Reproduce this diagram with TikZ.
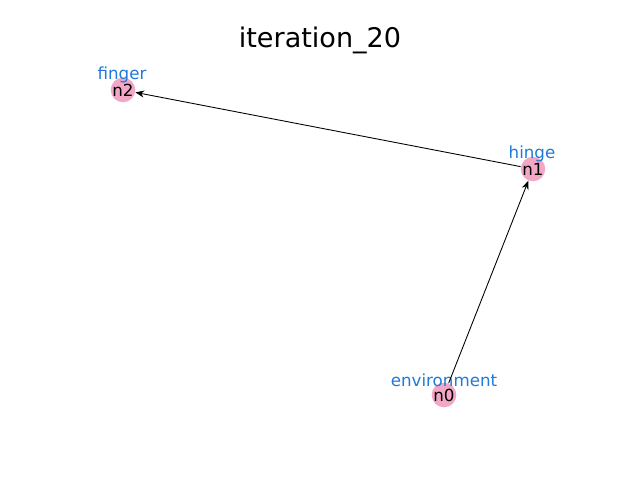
\documentclass[tikz,border=0pt]{standalone}
\usepackage{fontspec}
\setmainfont{DejaVu Sans}
\usetikzlibrary{arrows.meta}
\definecolor{nodepink}{HTML}{F2A7C6}
\definecolor{labelblue}{HTML}{1F7AD8}
\tikzset{
  part/.style={fill=nodepink, circle, inner sep=0pt, minimum size=0.48cm, font=\fontsize{9.5}{11}\selectfont},
  partname/.style={text=labelblue, font=\fontsize{9.5}{11}\selectfont},
  link/.style={-{Stealth[length=5pt,width=4pt]}, line width=0.5pt}
}
\begin{document}
\begin{tikzpicture}[x=0.02cm, y=-0.02cm]
            \useasboundingbox (0,0) rectangle (640,480);
            % Title
            \node[font=\fontsize{15.4}{18}\selectfont] (title) at (320,40) {iteration\_20};

            % Parts
            \node[part] (n0) at (444,395) {n0};
            \node[part] (n1) at (533,169) {n1};
            \node[part] (n2) at (123,90) {n2};

            % Names
            \node[partname] (l0) at (444,380) {environment};
            \node[partname] (l1) at (532,154) {hinge};
            \node[partname] (l2) at (122,75) {finger};

            % Joints
            \draw[link] (n0) -- (n1);
            \draw[link] (n1) -- (n2);
\end{tikzpicture}
\end{document}
